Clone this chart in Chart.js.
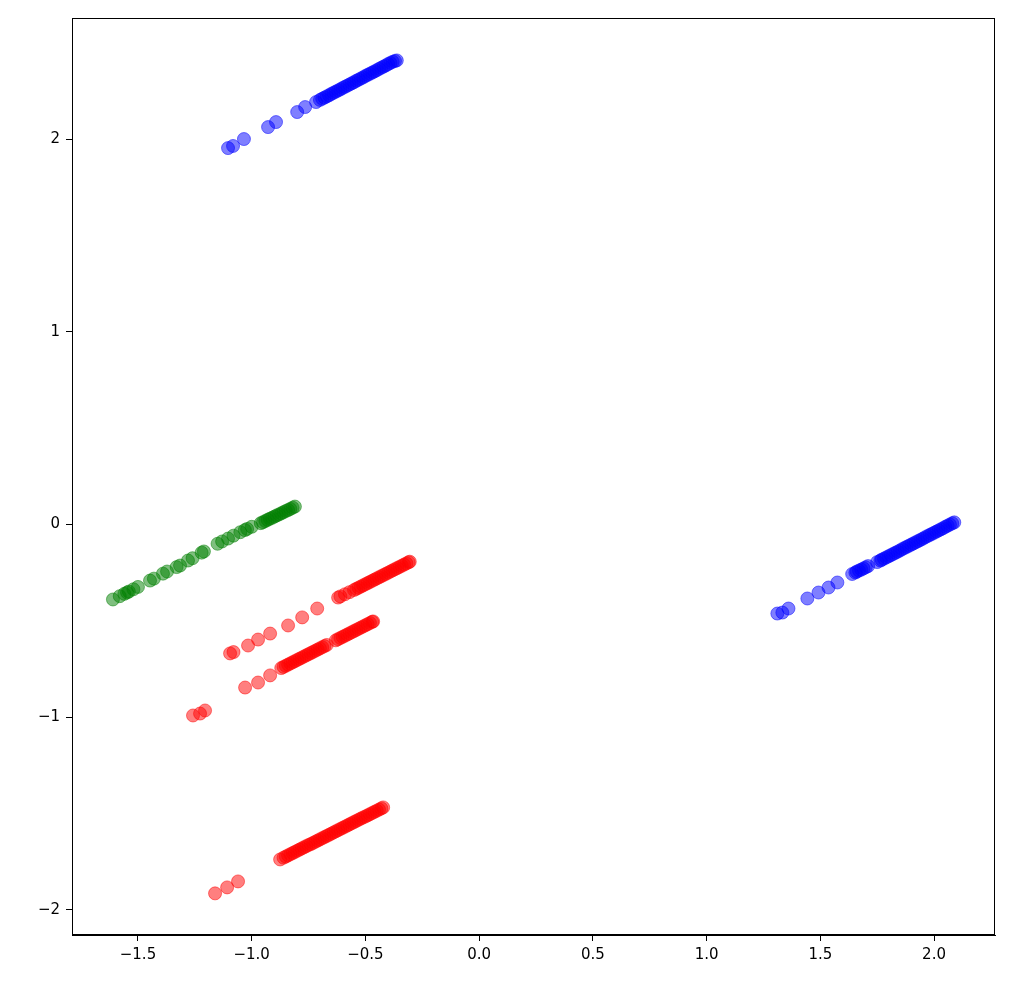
<!DOCTYPE html>
<html>
<head>
<meta charset="utf-8">
<script src="https://cdn.jsdelivr.net/npm/chart.js@4.4.1/dist/chart.umd.min.js"></script>
<style>
    html, body { margin: 0; padding: 0; background: #fff; }
    #plot { display: block; }
</style>
</head>
<body>
<canvas id="plot" width="1017" height="1000"></canvas>
<script>
const xTicks = [-1.5, -1.0, -0.5, 0.0, 0.5, 1.0, 1.5, 2.0];
const yTicks = [-2, -1, 0, 1, 2];

const blueTop = [
    [-1.104, 1.953], [-1.082, 1.964], [-1.034, 2.000], [-0.928, 2.062], [-0.893, 2.088],
    [-0.800, 2.140], [-0.765, 2.166], [-0.717, 2.192],
    [-0.700, 2.203], [-0.690, 2.209], [-0.680, 2.215], [-0.670, 2.221], [-0.660, 2.227],
    [-0.650, 2.234], [-0.640, 2.240], [-0.630, 2.246], [-0.620, 2.252], [-0.610, 2.258],
    [-0.600, 2.265], [-0.590, 2.271], [-0.580, 2.277], [-0.570, 2.283], [-0.560, 2.289],
    [-0.550, 2.295], [-0.540, 2.302], [-0.530, 2.308], [-0.520, 2.314], [-0.510, 2.320],
    [-0.500, 2.327], [-0.490, 2.333], [-0.480, 2.339], [-0.470, 2.345], [-0.460, 2.351],
    [-0.450, 2.357], [-0.440, 2.364], [-0.430, 2.370], [-0.420, 2.376], [-0.410, 2.382],
    [-0.400, 2.389], [-0.390, 2.395], [-0.380, 2.401], [-0.370, 2.405], [-0.362, 2.408],
];

const blueRight = [
    [1.311, -0.462], [1.333, -0.457], [1.360, -0.436], [1.443, -0.384], [1.492, -0.353],
    [1.536, -0.327], [1.575, -0.301], [1.640, -0.257], [1.654, -0.249], [1.660, -0.245],
    [1.670, -0.239], [1.680, -0.234], [1.690, -0.228], [1.700, -0.222], [1.710, -0.216],
    [1.750, -0.195], [1.764, -0.187], [1.770, -0.183], [1.780, -0.177], [1.790, -0.171],
    [1.800, -0.165], [1.810, -0.159], [1.820, -0.153], [1.830, -0.147], [1.840, -0.141],
    [1.850, -0.135], [1.860, -0.128], [1.870, -0.122], [1.880, -0.116], [1.890, -0.110],
    [1.900, -0.104], [1.910, -0.098], [1.920, -0.092], [1.930, -0.086], [1.940, -0.080],
    [1.950, -0.074], [1.960, -0.067], [1.970, -0.061], [1.980, -0.055], [1.990, -0.049],
    [2.000, -0.043], [2.010, -0.037], [2.020, -0.031], [2.030, -0.025], [2.040, -0.019],
    [2.050, -0.012], [2.060, -0.006], [2.070, 0.000], [2.080, 0.006], [2.089, 0.011],
];

const green = [
    [-1.610, -0.389], [-1.580, -0.372], [-1.560, -0.360], [-1.548, -0.353], [-1.540, -0.348],
    [-1.520, -0.336], [-1.500, -0.324], [-1.447, -0.291], [-1.430, -0.281], [-1.390, -0.255],
    [-1.372, -0.244], [-1.330, -0.221], [-1.315, -0.213], [-1.280, -0.187], [-1.260, -0.175],
    [-1.220, -0.146], [-1.210, -0.140], [-1.150, -0.100], [-1.130, -0.088], [-1.104, -0.073],
    [-1.080, -0.058], [-1.050, -0.040], [-1.030, -0.029], [-1.020, -0.023], [-1.000, -0.012],
    [-0.960, 0.007], [-0.950, 0.012], [-0.940, 0.018], [-0.930, 0.024], [-0.920, 0.030],
    [-0.910, 0.035], [-0.900, 0.041], [-0.890, 0.047], [-0.880, 0.052], [-0.870, 0.058],
    [-0.860, 0.064], [-0.850, 0.070], [-0.840, 0.075], [-0.830, 0.081], [-0.820, 0.087],
    [-0.810, 0.093],
];

const redUpper = [
    [-1.095, -0.669], [-1.080, -0.662], [-1.016, -0.628], [-0.972, -0.597], [-0.919, -0.566],
    [-0.840, -0.524], [-0.778, -0.482], [-0.712, -0.436], [-0.620, -0.379], [-0.610, -0.373],
    [-0.590, -0.362], [-0.570, -0.351], [-0.550, -0.340], [-0.540, -0.334], [-0.530, -0.328],
    [-0.520, -0.322], [-0.510, -0.316], [-0.500, -0.310], [-0.490, -0.304], [-0.480, -0.298],
    [-0.470, -0.292], [-0.460, -0.286], [-0.450, -0.280], [-0.440, -0.274], [-0.430, -0.268],
    [-0.420, -0.262], [-0.410, -0.256], [-0.400, -0.250], [-0.390, -0.244], [-0.380, -0.238],
    [-0.370, -0.232], [-0.360, -0.226], [-0.350, -0.220], [-0.340, -0.214], [-0.330, -0.208],
    [-0.320, -0.202], [-0.310, -0.196], [-0.305, -0.193],
];

const redMiddle = [
    [-1.258, -0.991], [-1.227, -0.981], [-1.205, -0.965], [-1.029, -0.846], [-0.972, -0.820],
    [-0.919, -0.783], [-0.870, -0.745], [-0.860, -0.739], [-0.850, -0.733], [-0.840, -0.727],
    [-0.830, -0.721], [-0.820, -0.715], [-0.810, -0.709], [-0.800, -0.703], [-0.790, -0.697],
    [-0.780, -0.691], [-0.770, -0.685], [-0.760, -0.679], [-0.750, -0.673], [-0.740, -0.667],
    [-0.730, -0.661], [-0.720, -0.655], [-0.710, -0.649], [-0.700, -0.643], [-0.690, -0.637],
    [-0.680, -0.631], [-0.670, -0.625], [-0.630, -0.601], [-0.620, -0.595], [-0.610, -0.589],
    [-0.600, -0.583], [-0.590, -0.577], [-0.580, -0.571], [-0.570, -0.565], [-0.560, -0.559],
    [-0.550, -0.553], [-0.540, -0.547], [-0.530, -0.541], [-0.520, -0.535], [-0.510, -0.529],
    [-0.500, -0.523], [-0.490, -0.517], [-0.480, -0.511], [-0.470, -0.505], [-0.466, -0.503],
];

const redLower = [
    [-1.161, -1.914], [-1.108, -1.883], [-1.060, -1.852], [-0.875, -1.738], [-0.860, -1.729],
    [-0.850, -1.723], [-0.840, -1.717], [-0.830, -1.711], [-0.820, -1.705], [-0.810, -1.699],
    [-0.800, -1.693], [-0.790, -1.687], [-0.780, -1.681], [-0.770, -1.675], [-0.760, -1.669],
    [-0.750, -1.663], [-0.740, -1.658], [-0.730, -1.652], [-0.720, -1.646], [-0.710, -1.640],
    [-0.700, -1.634], [-0.690, -1.628], [-0.680, -1.622], [-0.670, -1.616], [-0.660, -1.610],
    [-0.650, -1.604], [-0.640, -1.598], [-0.630, -1.592], [-0.620, -1.586], [-0.610, -1.580],
    [-0.600, -1.574], [-0.590, -1.568], [-0.580, -1.562], [-0.570, -1.556], [-0.560, -1.550],
    [-0.550, -1.544], [-0.540, -1.538], [-0.530, -1.532], [-0.520, -1.526], [-0.510, -1.520],
    [-0.500, -1.515], [-0.490, -1.509], [-0.480, -1.503], [-0.470, -1.497], [-0.460, -1.491],
    [-0.450, -1.485], [-0.440, -1.479], [-0.430, -1.473], [-0.422, -1.468],
];

const tickFont = { family: "'DejaVu Sans', sans-serif", size: 15 };

function toPoints(rows) {
    return rows.map(([x, y]) => ({ x, y }));
}

function series(rows, rgb) {
    return {
        data: toPoints(rows),
        backgroundColor: `rgba(${rgb}, 0.5)`,
        borderColor: `rgba(${rgb}, 0.5)`,
        borderWidth: 1,
        pointRadius: 6.5,
        pointHoverRadius: 6.5,
    };
}

// matplotlib-style closed frame round the plot area
const frame = {
    id: 'frame',
    afterDraw(chart) {
        const { ctx, chartArea: a } = chart;
        ctx.save();
        ctx.strokeStyle = '#000';
        ctx.lineWidth = 1;
        ctx.strokeRect(a.left + 0.5, a.top + 0.5, a.right - a.left - 1, a.bottom - a.top - 1);
        ctx.restore();
    },
};

const fmtMinus = (s) => s.replace('-', '\u2212');

new Chart(document.getElementById('plot'), {
    type: 'scatter',
    data: {
        datasets: [
            series(blueTop, '0, 0, 255'),
            series(blueRight, '0, 0, 255'),
            series(green, '0, 128, 0'),
            series(redUpper, '255, 0, 0'),
            series(redMiddle, '255, 0, 0'),
            series(redLower, '255, 0, 0'),
        ],
    },
    options: {
        responsive: false,
        animation: false,
        events: [],
        layout: { padding: { top: 18, right: 22, left: 0, bottom: 0 } },
        plugins: {
            legend: { display: false },
            tooltip: { enabled: false },
        },
        scales: {
            x: {
                type: 'linear',
                min: -1.79,
                max: 2.268,
                afterBuildTicks: (scale) => { scale.ticks = xTicks.map((v) => ({ value: v })); },
                afterFit: (scale) => { scale.height = 65; },
                grid: { drawOnChartArea: false, drawTicks: true, tickLength: 6, tickColor: '#000' },
                border: { display: true, color: '#000' },
                ticks: {
                    font: tickFont,
                    color: '#000',
                    padding: 5,
                    maxRotation: 0,
                    callback: (v) => fmtMinus(Number(v).toFixed(1)),
                },
            },
            y: {
                type: 'linear',
                min: -2.13,
                max: 2.628,
                afterBuildTicks: (scale) => { scale.ticks = yTicks.map((v) => ({ value: v })); },
                afterFit: (scale) => { scale.width = 72; },
                grid: { drawOnChartArea: false, drawTicks: true, tickLength: 6, tickColor: '#000' },
                border: { display: true, color: '#000' },
                ticks: {
                    font: tickFont,
                    color: '#000',
                    padding: 6,
                    callback: (v) => fmtMinus(String(v)),
                },
            },
        },
    },
    plugins: [frame],
});
</script>
</body>
</html>
